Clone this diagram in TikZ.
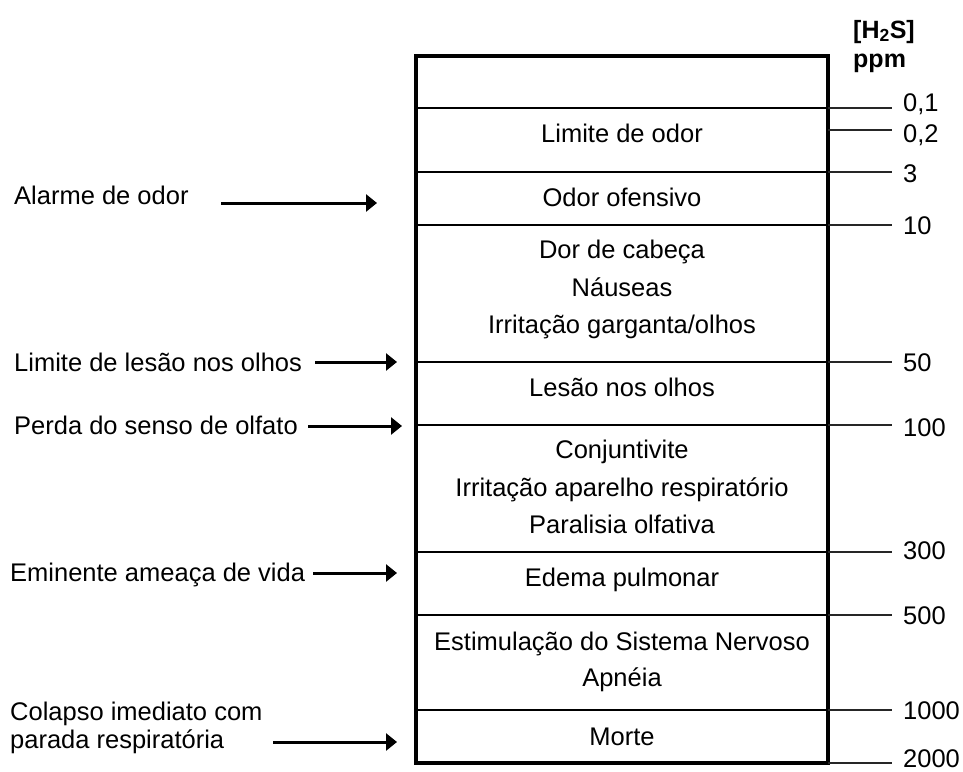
\documentclass[tikz,border=0pt]{standalone}
\usepackage{fontspec}
\setmainfont{Liberation Sans}
\usetikzlibrary{arrows.meta}
\begin{document}
\begin{tikzpicture}[x=1pt,y=-1pt,
  every node/.style={inner sep=0pt, font=\fontsize{25.5pt}{30pt}\selectfont},
  lbl/.style={anchor=base west},
  ctr/.style={anchor=base},
  hdr/.style={anchor=base west, font=\fontsize{25pt}{30pt}\selectfont\bfseries},
  arr/.style={line width=3pt, -{Triangle[length=11pt,width=17pt]}},
  frame/.style={line width=4pt},
  sep/.style={line width=2pt},
  tickline/.style={line width=1.3pt, black!85}]
\useasboundingbox (0,0) rectangle (963,771);

% frame
\draw[frame] (416,56) rectangle (828,763);
% separating lines
\foreach \y in {108,172,225,362,425,552,615,710}
  \draw[sep] (416,\y) -- (828,\y);
% outer ticks
\foreach \y in {108,130,172,225,362,425,552,615,710,763}
  \draw[tickline] (828,\y) -- (892,\y);

% header
\node[hdr] (h1) at (853,38) {[H\textsubscript{2}S]};
\node[hdr] (h2) at (853,67) {ppm};

% tick labels
\node[lbl] (t1) at (903,111) {0,1};
\node[lbl] (t2) at (903,142) {0,2};
\node[lbl] (t3) at (903,182) {3};
\node[lbl] (t4) at (903,234) {10};
\node[lbl] (t5) at (903,371) {50};
\node[lbl] (t6) at (903,436) {100};
\node[lbl] (t7) at (903,559) {300};
\node[lbl] (t8) at (903,624) {500};
\node[lbl] (t9) at (903,719) {1000};
\node[lbl] (t10) at (903,767) {2000};

% box contents
\node[ctr] (c1) at (622,142) {Limite de odor};
\node[ctr] (c2) at (622,206) {Odor ofensivo};
\node[ctr] (c3) at (622,258) {Dor de cabeça};
\node[ctr] (c4) at (622,296) {Náuseas};
\node[ctr] (c5) at (622,333) {Irritação garganta/olhos};
\node[ctr] (c6) at (622,396) {Lesão nos olhos};
\node[ctr] (c7) at (622,458) {Conjuntivite};
\node[ctr] (c8) at (622,496) {Irritação aparelho respiratório};
\node[ctr] (c9) at (622,533) {Paralisia olfativa};
\node[ctr] (c10) at (622,586) {Edema pulmonar};
\node[ctr] (c11) at (622,650) {Estimulação do Sistema Nervoso};
\node[ctr] (c12) at (622,686) {Apnéia};
\node[ctr] (c13) at (622,745) {Morte};

% left labels
\node[lbl] (l1) at (14,204) {Alarme de odor};
\node[lbl] (l2) at (14,371) {Limite de lesão nos olhos};
\node[lbl] (l3) at (14,434) {Perda do senso de olfato};
\node[lbl] (l4) at (10,581) {Eminente ameaça de vida};
\node[lbl] (l5a) at (10,720) {Colapso imediato com};
\node[lbl] (l5b) at (10,748) {parada respiratória};

% arrows
\coordinate (a1s) at (221,203); \coordinate (a1e) at (377,203);
\coordinate (a2s) at (315,362); \coordinate (a2e) at (397,362);
\coordinate (a3s) at (308,426); \coordinate (a3e) at (402,426);
\coordinate (a4s) at (313,573); \coordinate (a4e) at (397,573);
\coordinate (a5s) at (273,742); \coordinate (a5e) at (397,742);
\draw[arr] (a1s) -- (a1e);
\draw[arr] (a2s) -- (a2e);
\draw[arr] (a3s) -- (a3e);
\draw[arr] (a4s) -- (a4e);
\draw[arr] (a5s) -- (a5e);
\end{tikzpicture}
\end{document}
